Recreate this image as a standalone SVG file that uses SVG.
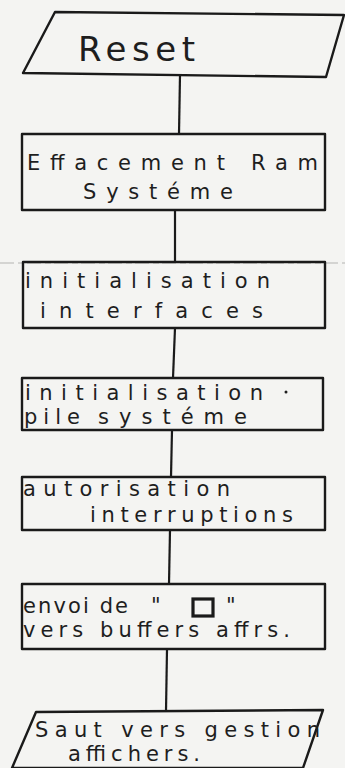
<svg xmlns="http://www.w3.org/2000/svg" width="345" height="768" viewBox="0 0 345 768">
  <style>
    .shape { fill: none; stroke: #1a1a1a; stroke-width: 2.4; stroke-linejoin: round; }
    .link { fill: none; stroke: #1a1a1a; stroke-width: 2.2; }
    .hand { font-family: "DejaVu Sans", "Liberation Sans", sans-serif; fill: #1e1e1e; font-size: 21px; }
    .big { font-size: 34px; }
  </style>
  <rect width="345" height="768" fill="#f4f4f2"/>
  <!-- faint fold mark across the sheet -->
  <line x1="0" y1="263" x2="345" y2="263" stroke="#8a8a8a" stroke-width="1" stroke-dasharray="14 4 6 3" opacity="0.6"/>

  <g id="connectors">
    <line class="link" x1="180" y1="75" x2="179" y2="134"/>
    <line class="link" x1="175" y1="210" x2="175" y2="262"/>
    <line class="link" x1="175" y1="328" x2="173" y2="378"/>
    <line class="link" x1="172" y1="430" x2="171" y2="477"/>
    <line class="link" x1="170" y1="530" x2="169" y2="584"/>
    <line class="link" x1="167" y1="649" x2="166" y2="711"/>
  </g>

  <g id="reset">
    <polygon class="shape" points="55,12 344,15 326,77 23,73"/>
    <text class="hand big" x="78" y="61" textLength="117" lengthAdjust="spacing">Reset</text>
  </g>

  <g id="effacement-ram">
    <rect class="shape" x="22" y="134" width="303" height="76"/>
    <text class="hand" x="27" y="170" textLength="291" lengthAdjust="spacing">Effacement Ram</text>
    <text class="hand" x="83" y="199" textLength="150" lengthAdjust="spacing">Systéme</text>
  </g>

  <g id="init-interfaces">
    <rect class="shape" x="23" y="262" width="302" height="66"/>
    <text class="hand" x="25" y="288" textLength="245" lengthAdjust="spacing">initialisation</text>
    <text class="hand" x="40" y="318" textLength="223" lengthAdjust="spacing">interfaces</text>
  </g>

  <g id="init-pile">
    <rect class="shape" x="22" y="378" width="301" height="52"/>
    <text class="hand" x="25" y="400" textLength="238" lengthAdjust="spacing">initialisation</text>
    <circle cx="286" cy="392" r="1.5" fill="#1e1e1e"/>
    <text class="hand" x="24" y="424" textLength="56" lengthAdjust="spacing">pile</text>
    <text class="hand" x="98" y="424" textLength="149" lengthAdjust="spacing">systéme</text>
  </g>

  <g id="autorisation-interruptions">
    <rect class="shape" x="22" y="477" width="303" height="53"/>
    <text class="hand" x="23" y="496" textLength="207" lengthAdjust="spacing">autorisation</text>
    <text class="hand" x="90" y="522" textLength="203" lengthAdjust="spacing">interruptions</text>
  </g>

  <g id="envoi-buffers">
    <rect class="shape" x="22" y="584" width="303" height="65"/>
    <text class="hand" y="613"><tspan x="23" textLength="105" lengthAdjust="spacing">envoi de</tspan><tspan x="151">"</tspan><tspan x="226">"</tspan></text>
    <rect x="193" y="599" width="20" height="17" fill="none" stroke="#1a1a1a" stroke-width="3.2"/>
    <text class="hand" x="23" y="637" textLength="267" lengthAdjust="spacing">vers buffers affrs.</text>
  </g>

  <g id="saut-gestion">
    <polygon class="shape" points="36,712 323,710 303,768 12,768"/>
    <text class="hand" x="35" y="737" textLength="285" lengthAdjust="spacing">Saut vers gestion</text>
    <text class="hand" x="68" y="761" textLength="132" lengthAdjust="spacing">affichers.</text>
  </g>
</svg>
